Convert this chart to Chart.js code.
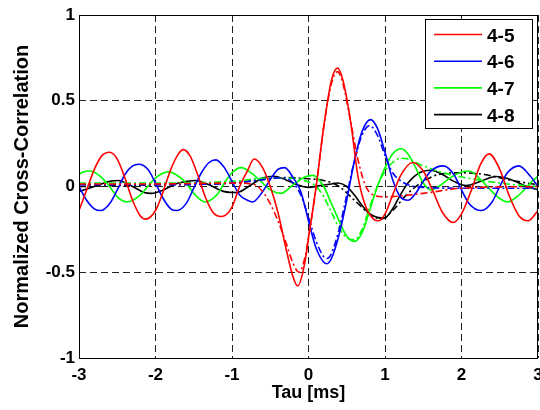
<!DOCTYPE html>
<html>
<head>
<meta charset="utf-8">
<script src="https://cdn.jsdelivr.net/npm/chart.js@4.4.1/dist/chart.umd.min.js"></script>
<style>
  html, body { margin: 0; padding: 0; background: #ffffff; }
  #wrap { width: 540px; height: 410px; position: relative; }
</style>
</head>
<body>
<div id="wrap"><canvas id="c" width="540" height="410"></canvas></div>
<script>
// ---- data ----
const seriesLabels = ['4-5', '4-6', '4-7', '4-8'];
const seriesColors = ['#ff0000', '#0000ff', '#00ff00', '#000000'];
const xTicks = [-3, -2, -1, 0, 1, 2, 3];
const xTickLabels = ['-3', '-2', '-1', '0', '1', '2', '3'];
const yTicks = [-1, -0.5, 0, 0.5, 1];
const yTickLabels = ['-1', '-0.5', '0', '0.5', '1'];

// 4-5 measured (solid)
const tau45 = [-3,-2.9,-2.8,-2.7,-2.6,-2.5,-2.4,-2.3,-2.2,-2.13,-2.0,-1.9,-1.8,-1.7,-1.64,-1.55,-1.45,-1.35,-1.25,-1.14,-1.0,-0.9,-0.8,-0.71,-0.6,-0.5,-0.4,-0.3,-0.2,-0.14,-0.05,0,0.1,0.2,0.3,0.38,0.45,0.55,0.65,0.75,0.85,0.92,1.0,1.1,1.2,1.36,1.5,1.62,1.75,1.89,2.0,2.13,2.25,2.36,2.5,2.62,2.75,2.87,3.0];
const r45 = [-0.14,-0.02,0.1,0.18,0.20,0.16,0.05,-0.08,-0.17,-0.19,-0.14,-0.03,0.1,0.19,0.215,0.18,0.07,-0.06,-0.15,-0.175,-0.12,0.0,0.09,0.16,0.11,0.0,-0.15,-0.35,-0.53,-0.58,-0.45,-0.3,0.0,0.35,0.62,0.69,0.62,0.38,0.05,-0.12,-0.19,-0.2,-0.16,-0.05,0.06,0.14,0.09,-0.02,-0.15,-0.21,-0.16,-0.02,0.13,0.19,0.1,-0.05,-0.17,-0.2,-0.14];
// 4-5 model (dash-dot)
const tau45m = [-3,-2,-1,-0.7,-0.6,-0.5,-0.4,-0.3,-0.2,-0.12,-0.05,0,0.1,0.2,0.3,0.38,0.45,0.55,0.65,0.75,0.85,1.0,1.5,2.0,3.0];
const r45m = [0.015,0.015,0.02,0.01,-0.03,-0.1,-0.2,-0.32,-0.45,-0.5,-0.42,-0.3,0.0,0.35,0.6,0.67,0.6,0.38,0.15,0.0,-0.05,-0.06,-0.04,-0.01,0.0];

// 4-6 measured
const tau46 = [-3,-2.9,-2.8,-2.72,-2.6,-2.5,-2.4,-2.3,-2.22,-2.1,-2.0,-1.9,-1.8,-1.72,-1.6,-1.5,-1.4,-1.3,-1.21,-1.1,-1.0,-0.9,-0.8,-0.73,-0.6,-0.5,-0.4,-0.31,-0.2,-0.1,0,0.1,0.24,0.3,0.4,0.5,0.6,0.7,0.81,0.9,1.0,1.1,1.2,1.3,1.4,1.5,1.6,1.76,1.9,2.0,2.1,2.26,2.4,2.5,2.6,2.75,2.9,3.0];
const r46 = [0.0,-0.08,-0.13,-0.14,-0.1,-0.02,0.07,0.12,0.13,0.1,0.02,-0.07,-0.13,-0.14,-0.1,-0.01,0.08,0.14,0.155,0.11,0.03,-0.05,-0.08,-0.09,-0.03,0.04,0.1,0.11,0.05,-0.03,-0.2,-0.36,-0.45,-0.42,-0.28,-0.08,0.15,0.32,0.39,0.34,0.2,0.04,-0.06,-0.08,-0.04,0.03,0.09,0.12,0.07,-0.02,-0.1,-0.14,-0.09,0.0,0.08,0.12,0.06,0.0];
// 4-6 model
const tau46m = [-3,-2,-1,-0.6,-0.4,-0.3,-0.2,-0.1,0,0.1,0.2,0.24,0.3,0.4,0.5,0.6,0.7,0.8,0.9,1.0,1.1,1.2,1.3,1.5,2.0,3.0];
const r46m = [0.01,0.01,0.02,0.04,0.05,0.05,0.02,-0.05,-0.18,-0.32,-0.41,-0.42,-0.39,-0.25,-0.05,0.15,0.3,0.355,0.3,0.18,0.08,0.035,0.01,-0.005,-0.01,-0.01];

// 4-7 measured
const tau47 = [-3,-2.95,-2.85,-2.7,-2.6,-2.5,-2.37,-2.2,-2.1,-2.0,-1.83,-1.7,-1.6,-1.5,-1.35,-1.2,-1.1,-1.0,-0.88,-0.75,-0.6,-0.5,-0.36,-0.2,-0.05,0.06,0.2,0.3,0.4,0.5,0.6,0.7,0.8,0.9,1.0,1.1,1.21,1.3,1.4,1.5,1.6,1.7,1.85,2.0,2.1,2.25,2.4,2.5,2.6,2.75,2.9,3.0];
const r47 = [0.07,0.085,0.09,0.05,0.0,-0.06,-0.09,-0.05,0.0,0.05,0.085,0.06,0.02,-0.04,-0.09,-0.05,0.02,0.08,0.11,0.08,0.02,-0.02,-0.04,0.01,0.055,0.065,0.0,-0.1,-0.2,-0.29,-0.32,-0.27,-0.14,0.0,0.11,0.19,0.22,0.19,0.11,0.02,-0.02,0.0,0.05,0.085,0.09,0.04,-0.03,-0.07,-0.09,-0.05,0.02,0.06];
// 4-7 model
const tau47m = [-3,-2,-1,-0.5,-0.3,-0.1,0.1,0.2,0.3,0.4,0.5,0.6,0.7,0.8,0.9,1.0,1.1,1.2,1.3,1.5,1.8,2.2,2.6,3.0];
const r47m = [0.02,0.02,0.03,0.05,0.05,0.04,0.0,-0.06,-0.15,-0.24,-0.3,-0.31,-0.25,-0.12,0.0,0.09,0.14,0.165,0.16,0.12,0.075,0.04,0.015,0.0];

// 4-8 measured
const tau48 = [-3,-2.8,-2.6,-2.49,-2.3,-2.15,-2.05,-1.9,-1.7,-1.48,-1.3,-1.1,-0.94,-0.75,-0.6,-0.45,-0.3,-0.15,0.0,0.15,0.3,0.38,0.5,0.6,0.7,0.8,0.9,0.99,1.1,1.2,1.3,1.45,1.6,1.75,1.9,2.06,2.25,2.45,2.65,2.85,3.0];
const r48 = [-0.03,0.0,0.03,0.035,0.0,-0.035,-0.04,-0.02,0.02,0.035,0.01,-0.03,-0.035,0.01,0.05,0.06,0.04,0.01,-0.005,0.005,0.015,0.02,0.0,-0.05,-0.11,-0.16,-0.18,-0.185,-0.13,-0.05,0.02,0.08,0.095,0.07,0.03,0.005,0.03,0.058,0.04,0.0,-0.02];
// 4-8 model
const tau48m = [-3,-2,-1,-0.6,-0.3,0,0.2,0.4,0.6,0.8,0.95,1.1,1.3,1.5,1.7,2.0,2.3,2.6,3.0];
const r48m = [0.0,0.01,0.02,0.04,0.052,0.045,0.035,0.0,-0.08,-0.16,-0.19,-0.14,-0.04,0.03,0.07,0.08,0.07,0.04,0.01];

// ---- build datasets ----
const FONT = "'Liberation Sans', Arial, Helvetica, sans-serif";
function pts(xs, ys) { return xs.map((x, i) => ({ x: x, y: ys[i] })); }
const measured = [[tau45, r45], [tau46, r46], [tau47, r47], [tau48, r48]];
const model = [[tau45m, r45m], [tau46m, r46m], [tau47m, r47m], [tau48m, r48m]];
const datasets = [];
for (let i = 0; i < 4; i++) {
  datasets.push({
    label: seriesLabels[i],
    data: pts(measured[i][0], measured[i][1]),
    borderColor: seriesColors[i],
    borderWidth: 1.6,
    pointRadius: 0,
    cubicInterpolationMode: 'monotone',
    fill: false,
    isModel: false
  });
  datasets.push({
    label: seriesLabels[i] + ' model',
    data: pts(model[i][0], model[i][1]),
    borderColor: seriesColors[i],
    borderWidth: 1.6,
    borderDash: [7, 3, 2, 3],
    pointRadius: 0,
    cubicInterpolationMode: 'monotone',
    fill: false,
    isModel: true
  });
}

// frame + in-plot legend
const boxLegend = {
  id: 'boxLegend',
  afterDatasetsDraw(chart) {
    const ctx = chart.ctx;
    const a = chart.chartArea;
    ctx.save();
    ctx.setLineDash([]);
    ctx.strokeStyle = '#000';
    ctx.lineWidth = 1;
    ctx.strokeRect(Math.round(a.left) + 0.5, Math.round(a.top) + 0.5,
                   Math.round(a.right - a.left) - 1, Math.round(a.bottom - a.top));
    // legend box
    const bx = a.right - 113, by = a.top + 4, bw = 107, bh = 109;
    ctx.fillStyle = '#fff';
    ctx.fillRect(bx, by, bw, bh);
    ctx.strokeRect(Math.round(bx) + 0.5, Math.round(by) + 0.5, bw, bh);
    ctx.font = 'bold 19px ' + FONT;
    ctx.textBaseline = 'middle';
    ctx.textAlign = 'left';
    const items = chart.data.datasets.filter(d => !d.isModel);
    items.forEach((d, i) => {
      const y = by + 15.5 + i * 26.7;
      ctx.strokeStyle = d.borderColor;
      ctx.lineWidth = 1.6;
      ctx.beginPath();
      ctx.moveTo(bx + 9, y);
      ctx.lineTo(bx + 57, y);
      ctx.stroke();
      ctx.fillStyle = '#000';
      ctx.fillText(d.label, bx + 62, y + 2);
    });
    ctx.restore();
  }
};

new Chart(document.getElementById('c'), {
  type: 'line',
  data: { datasets: datasets },
  plugins: [boxLegend],
  options: {
    responsive: false,
    animation: false,
    layout: { padding: { top: 15, right: 2, left: 0, bottom: 0 } },
    plugins: { legend: { display: false }, tooltip: { enabled: false } },
    scales: {
      x: {
        type: 'linear',
        min: -3, max: 3,
        afterBuildTicks: (s) => { s.ticks = xTicks.map(v => ({ value: v })); },
        afterFit: (s) => { s.height = 52; s.paddingLeft = 0; s.paddingRight = 0; },
        grid: { color: '#222', lineWidth: 1, drawTicks: false },
        border: { display: false, dash: [7, 4] },
        ticks: { color: '#000', padding: 7, maxRotation: 0, autoSkip: false,
                 callback: (v) => xTickLabels[xTicks.indexOf(v)],
                 font: { family: FONT, size: 17, weight: 'bold' } },
        title: { display: true, text: 'Tau [ms]', color: '#000',
                 padding: { top: 0, bottom: 6 },
                 font: { family: FONT, size: 18, weight: 'bold' } }
      },
      y: {
        min: -1, max: 1,
        afterBuildTicks: (s) => { s.ticks = yTicks.map(v => ({ value: v })); },
        afterFit: (s) => { s.width = 79; s.paddingTop = 0; s.paddingBottom = 0; },
        grid: { color: '#222', lineWidth: 1, drawTicks: false },
        border: { display: false, dash: [7, 4] },
        ticks: { color: '#000', padding: 4, autoSkip: false,
                 callback: (v) => yTickLabels[yTicks.indexOf(v)],
                 font: { family: FONT, size: 17, weight: 'bold' } },
        title: { display: true, text: 'Normalized Cross-Correlation', color: '#000',
                 padding: { top: 10, bottom: 0 },
                 font: { family: FONT, size: 20, weight: 'bold' } }
      }
    }
  }
});
</script>
</body>
</html>
